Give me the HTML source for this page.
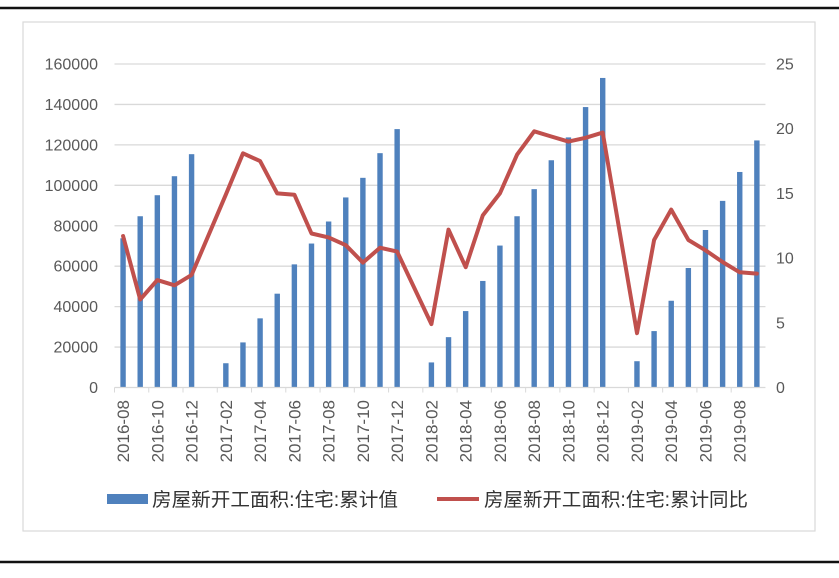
<!DOCTYPE html>
<html><head><meta charset="utf-8">
<style>
body{margin:0;background:#fff;width:839px;height:573px;overflow:hidden;font-family:"Liberation Sans","Noto Sans CJK SC",sans-serif;}
svg text{font-family:"Liberation Sans","Noto Sans CJK SC",sans-serif;}
</style></head>
<body>
<svg id="chart" width="839" height="573">
<line x1="0" y1="8" x2="839" y2="8" stroke="#111" stroke-width="2.5"/>
<line x1="0" y1="562" x2="839" y2="562" stroke="#111" stroke-width="2.5"/>
<rect x="23" y="22" width="792" height="509" fill="none" stroke="#d9d9d9" stroke-width="1.2"/>
<g id="grid"></g><g id="bars"></g><g id="line"></g><g id="axes"></g>
<g>
<rect x="107" y="494" width="41" height="10" fill="#4f81bd"/>
<text x="152" y="506" font-size="19" textLength="246" lengthAdjust="spacingAndGlyphs" fill="#333">房屋新开工面积:住宅:累计值</text>
<line x1="437" y1="499" x2="479" y2="499" stroke="#c0504d" stroke-width="4"/>
<text x="484" y="506" font-size="19" textLength="264" lengthAdjust="spacingAndGlyphs" fill="#333">房屋新开工面积:住宅:累计同比</text>
</g>
</svg>
<script>
const categories=["2016-08","2016-09","2016-10","2016-11","2016-12","2017-01","2017-02","2017-03","2017-04","2017-05","2017-06","2017-07","2017-08","2017-09","2017-10","2017-11","2017-12","2018-01","2018-02","2018-03","2018-04","2018-05","2018-06","2018-07","2018-08","2018-09","2018-10","2018-11","2018-12","2019-01","2019-02","2019-03","2019-04","2019-05","2019-06","2019-07","2019-08","2019-09"];
const barValues=[73800,84700,95100,104500,115400,null,12000,22300,34200,46400,60900,71200,82100,94000,103700,115900,127800,null,12400,24900,37800,52700,70200,84700,98100,112400,123700,138700,153100,null,13000,27900,42900,59100,77900,92300,106600,122200];
const lineValues=[11.7,6.8,8.3,7.9,8.7,null,14.9,18.1,17.5,15.0,14.9,11.9,11.6,11.0,9.65,10.8,10.5,null,4.9,12.2,9.3,13.3,15.0,18.0,19.8,19.4,19.0,19.3,19.7,null,4.2,11.4,13.75,11.4,10.6,9.7,8.9,8.8];
const leftTicks=[0,20000,40000,60000,80000,100000,120000,140000,160000];
const rightTicks=[0,5,10,15,20,25];
const NS="http://www.w3.org/2000/svg";
const X0=114.5,STEP=17.13,Y0=387.5,YT=64;
const xs=i=>X0+STEP*(i+0.5);
const yL=v=>Y0-(v/160000)*(Y0-YT);
const yR=v=>Y0-(v/25)*(Y0-YT);
function mk(tag,attrs,parent){const e=document.createElementNS(NS,tag);for(const k in attrs)e.setAttribute(k,attrs[k]);parent.appendChild(e);return e;}
const grid=document.getElementById('grid'),bars=document.getElementById('bars'),lineG=document.getElementById('line'),axes=document.getElementById('axes');
const XR=X0+STEP*categories.length;
leftTicks.forEach(t=>{
 if(t>0){const g=mk('line',{x1:X0,x2:XR,y1:yL(t),y2:yL(t),stroke:'#d9d9d9','stroke-width':1.3},grid);
 
 }
 const tx=mk('text',{x:98,y:yL(t)+5.5,'text-anchor':'end','font-size':16,fill:'#595959'},axes);tx.textContent=t;
 
 
});
rightTicks.forEach(t=>{
 const tx=mk('text',{x:776,y:yR(t)+5.5,'font-size':16,fill:'#595959'},axes);tx.textContent=t;
 
 
});
const ax=mk('line',{x1:X0,x2:XR,y1:Y0,y2:Y0,stroke:'#d9d9d9','stroke-width':1.3},axes);


categories.forEach((c,i)=>{
 if(i%2===0){
  const tk=mk('line',{x1:X0+STEP*i,x2:X0+STEP*i,y1:Y0,y2:Y0+5,stroke:'#d9d9d9'},axes);
  
  
  const x=xs(i)+6,y=400;
  const tx=mk('text',{x:x,y:y,'text-anchor':'end','font-size':17,fill:'#595959',transform:`rotate(-90 ${x} ${y})`},axes);tx.textContent=c;
  
  
 }
 const v=barValues[i];
 if(v!=null){const r=mk('rect',{x:xs(i)-2.7,y:yL(v),width:5.4,height:Y0-yL(v),fill:'#4f81bd'},bars);
  
  }
});
let pts=[];lineValues.forEach((v,i)=>{if(v!=null)pts.push(xs(i).toFixed(1)+','+yR(v).toFixed(1));});
const pl=mk('polyline',{points:pts.join(' '),fill:'none',stroke:'#c0504d','stroke-width':4,'stroke-linejoin':'round','stroke-linecap':'round'},lineG);


</script>
</body></html>
